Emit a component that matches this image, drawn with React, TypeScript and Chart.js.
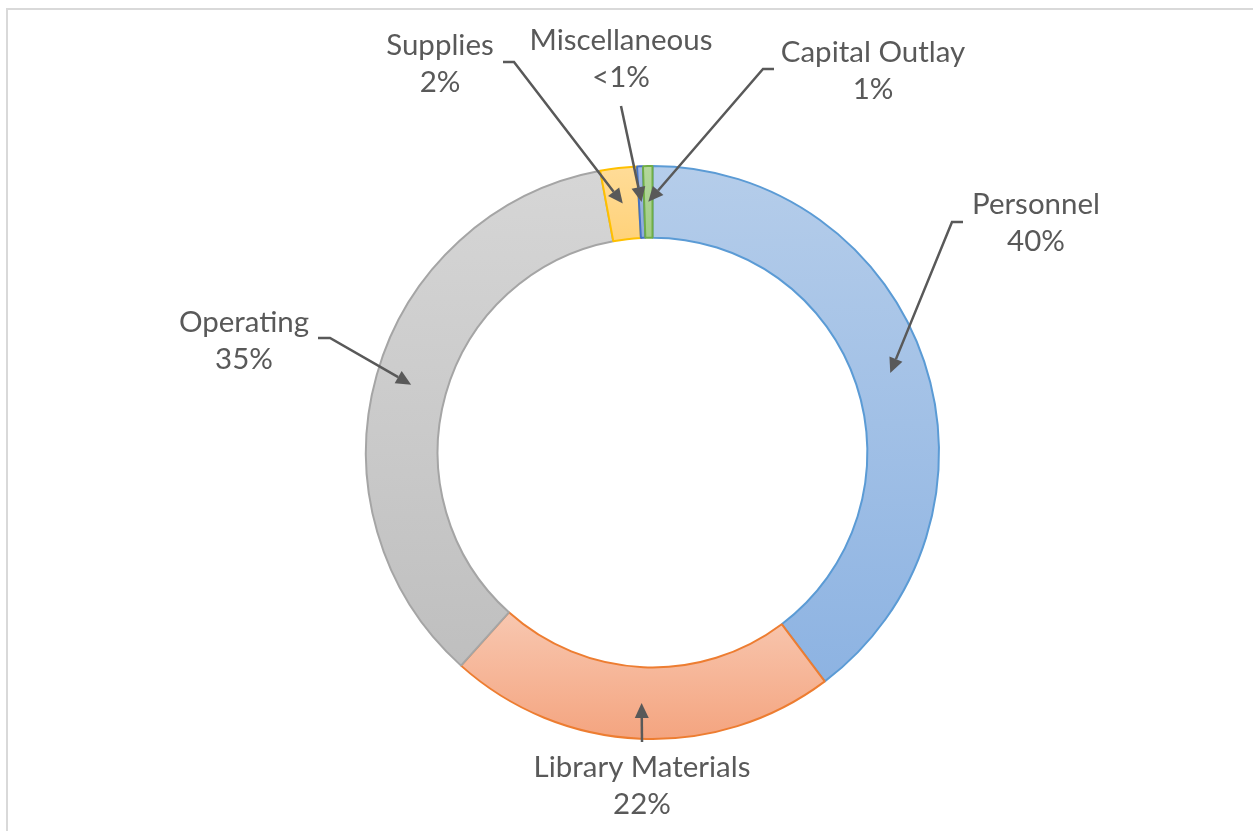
import React, { useEffect, useRef } from "react";
import { Chart, registerables } from "chart.js";

Chart.register(...registerables);

// ---- Data ----
const categories = [
  "Personnel",
  "Library Materials",
  "Operating",
  "Supplies",
  "Miscellaneous",
  "Capital Outlay",
];
const shares = [39.7, 21.9, 35.4, 2.06, 0.33, 0.53];

// ---- Styles ----
const gradientTop = ["#b5cdea", "#f8c7b0", "#d6d6d6", "#ffdc98", "#a3b9e2", "#b3d79b"];
const gradientBottom = ["#8db3e2", "#f4a47f", "#bfbfbf", "#ffd27a", "#8eaadb", "#a2cd86"];
const borderColors = ["#5b9bd5", "#ed7d31", "#a5a5a5", "#ffc000", "#4472c4", "#70ad47"];
const TEXT_COLOR = "#595959";
const FONT_FAMILY = "Lato, 'Open Sans', 'Noto Sans', sans-serif";
const CUTOUT = 0.75;

// label placement (text centre x, first-line baseline, leader elbow points)
const labelLayout = [
  { cx: 1036, baseline: 214, leader: [[963, 222], [952, 222]] },
  { cx: 642, baseline: 777, leader: [[642, 742]] },
  { cx: 244, baseline: 332, leader: [[318, 338], [330, 338]] },
  { cx: 440, baseline: 55, leader: [[503, 62], [514, 62]] },
  { cx: 621, baseline: 50, leader: [[621, 106]] },
  { cx: 873, baseline: 62, leader: [[774, 69], [763, 69]] },
];

function segmentFill(c: any) {
  const i = c.dataIndex;
  const chart = c.chart;
  const area = chart.chartArea;
  if (!area) return gradientBottom[i];
  const data = c.dataset.data as number[];
  const total = data.reduce((s, v) => s + v, 0);
  let before = 0;
  for (let j = 0; j < i; j++) before += data[j];
  const a0 = -Math.PI / 2 + (before / total) * Math.PI * 2;
  const a1 = a0 + (data[i] / total) * Math.PI * 2;
  const cy = (area.top + area.bottom) / 2;
  const R = Math.min(area.width, area.height) / 2;
  const r = R * CUTOUT;
  let yMin = Infinity;
  let yMax = -Infinity;
  for (let k = 0; k <= 80; k++) {
    const a = a0 + ((a1 - a0) * k) / 80;
    for (const rad of [R, r]) {
      const y = cy + rad * Math.sin(a);
      if (y < yMin) yMin = y;
      if (y > yMax) yMax = y;
    }
  }
  if (yMax - yMin < 1) yMax = yMin + 1;
  const g = chart.ctx.createLinearGradient(0, yMin, 0, yMax);
  g.addColorStop(0, gradientTop[i]);
  g.addColorStop(1, gradientBottom[i]);
  return g;
}

const calloutPlugin = {
  id: "callouts",
  beforeDraw(chart: any) {
    const ctx = chart.ctx;
    ctx.save();
    ctx.strokeStyle = "#d9d9d9";
    ctx.lineWidth = 2;
    ctx.strokeRect(7, 9, 1400, 1000);
    ctx.restore();
  },
  afterDatasetsDraw(chart: any) {
    const ctx = chart.ctx;
    const meta = chart.getDatasetMeta(0);
    const data = chart.data.datasets[0].data as number[];
    const total = data.reduce((s, v) => s + v, 0);
    ctx.save();
    ctx.font = `29px ${FONT_FAMILY}`;
    const w = ctx.measureText("Library Materials").width;
    const size = (29 * 217) / w;
    ctx.font = `${size}px ${FONT_FAMILY}`;
    ctx.textAlign = "center";
    ctx.textBaseline = "alphabetic";
    meta.data.forEach((arc: any, i: number) => {
      const L = labelLayout[i];
      const pct = (data[i] / total) * 100;
      const pctText = pct < 0.5 ? "<1%" : Math.round(pct) + "%";
      ctx.fillStyle = TEXT_COLOR;
      ctx.fillText(chart.data.labels[i], L.cx, L.baseline);
      ctx.fillText(pctText, L.cx, L.baseline + 37);

      const tip = arc.getCenterPoint();
      const pts = [...L.leader, [tip.x, tip.y]];
      const [px, py] = pts[pts.length - 2];
      const ang = Math.atan2(tip.y - py, tip.x - px);
      const headLen = 15;
      const headW = 7;
      const bx = tip.x - headLen * Math.cos(ang);
      const by = tip.y - headLen * Math.sin(ang);
      ctx.strokeStyle = TEXT_COLOR;
      ctx.lineWidth = 2.5;
      ctx.lineJoin = "miter";
      ctx.beginPath();
      ctx.moveTo(pts[0][0], pts[0][1]);
      for (let k = 1; k < pts.length - 1; k++) ctx.lineTo(pts[k][0], pts[k][1]);
      ctx.lineTo(bx, by);
      ctx.stroke();
      ctx.fillStyle = TEXT_COLOR;
      ctx.beginPath();
      ctx.moveTo(tip.x, tip.y);
      ctx.lineTo(bx + headW * Math.sin(ang), by - headW * Math.cos(ang));
      ctx.lineTo(bx - headW * Math.sin(ang), by + headW * Math.cos(ang));
      ctx.closePath();
      ctx.fill();
    });
    ctx.restore();
  },
};

export default function App() {
  const canvasRef = useRef<HTMLCanvasElement | null>(null);

  useEffect(() => {
    const canvas = canvasRef.current;
    if (!canvas) return;
    const chart = new Chart(canvas, {
      type: "doughnut",
      data: {
        labels: categories,
        datasets: [
          {
            data: shares,
            backgroundColor: segmentFill as any,
            borderColor: borderColors,
            borderWidth: 2,
          },
        ],
      },
      options: {
        responsive: false,
        devicePixelRatio: 1,
        animation: false,
        cutout: `${CUTOUT * 100}%`,
        layout: { padding: { left: 365, top: 165, right: 313, bottom: 91 } },
        plugins: {
          legend: { display: false },
          tooltip: { enabled: false },
        },
      },
      plugins: [calloutPlugin],
    });
    return () => chart.destroy();
  }, []);

  return (
    <div style={{ position: "fixed", left: 0, top: 0, width: 1253, height: 831, background: "#fff" }}>
      <canvas ref={canvasRef} width={1253} height={831} />
    </div>
  );
}
